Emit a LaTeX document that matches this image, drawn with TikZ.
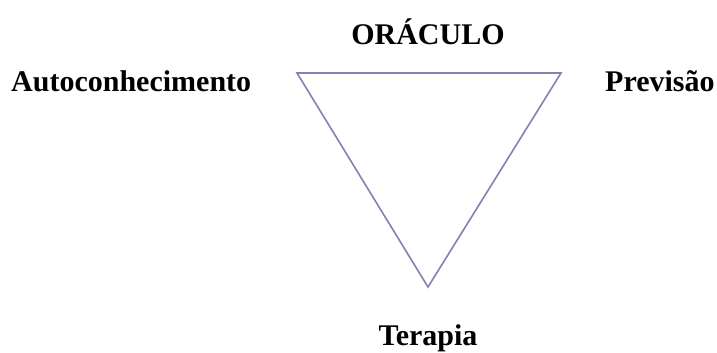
\documentclass[tikz,border=0pt]{standalone}
\usepackage{fontspec}
\setmainfont{Liberation Serif}
\definecolor{triline}{RGB}{140,124,180}
\begin{document}
\begin{tikzpicture}[x=1pt,y=-1pt,
  lbl/.style={font=\fontsize{30}{36}\selectfont\bfseries, inner sep=0pt, anchor=base},
  tri/.style={draw=triline, line width=1.6pt, line join=miter}]
\useasboundingbox (0,0) rectangle (717,353);
\coordinate (tl) at (297,73);
\coordinate (tr) at (561,73);
\coordinate (bt) at (428,287);
\draw[tri] (tl) -- (tr) -- (bt) -- cycle;
\node[lbl] (oraculo) at (428,45) {ORÁCULO};
\node[lbl, anchor=base west] (auto) at (11,92) {Autoconhecimento};
\node[lbl, anchor=base west] (prev) at (605,92) {Previsão};
\node[lbl] (terapia) at (428,345) {Terapia};
\end{tikzpicture}
\end{document}
